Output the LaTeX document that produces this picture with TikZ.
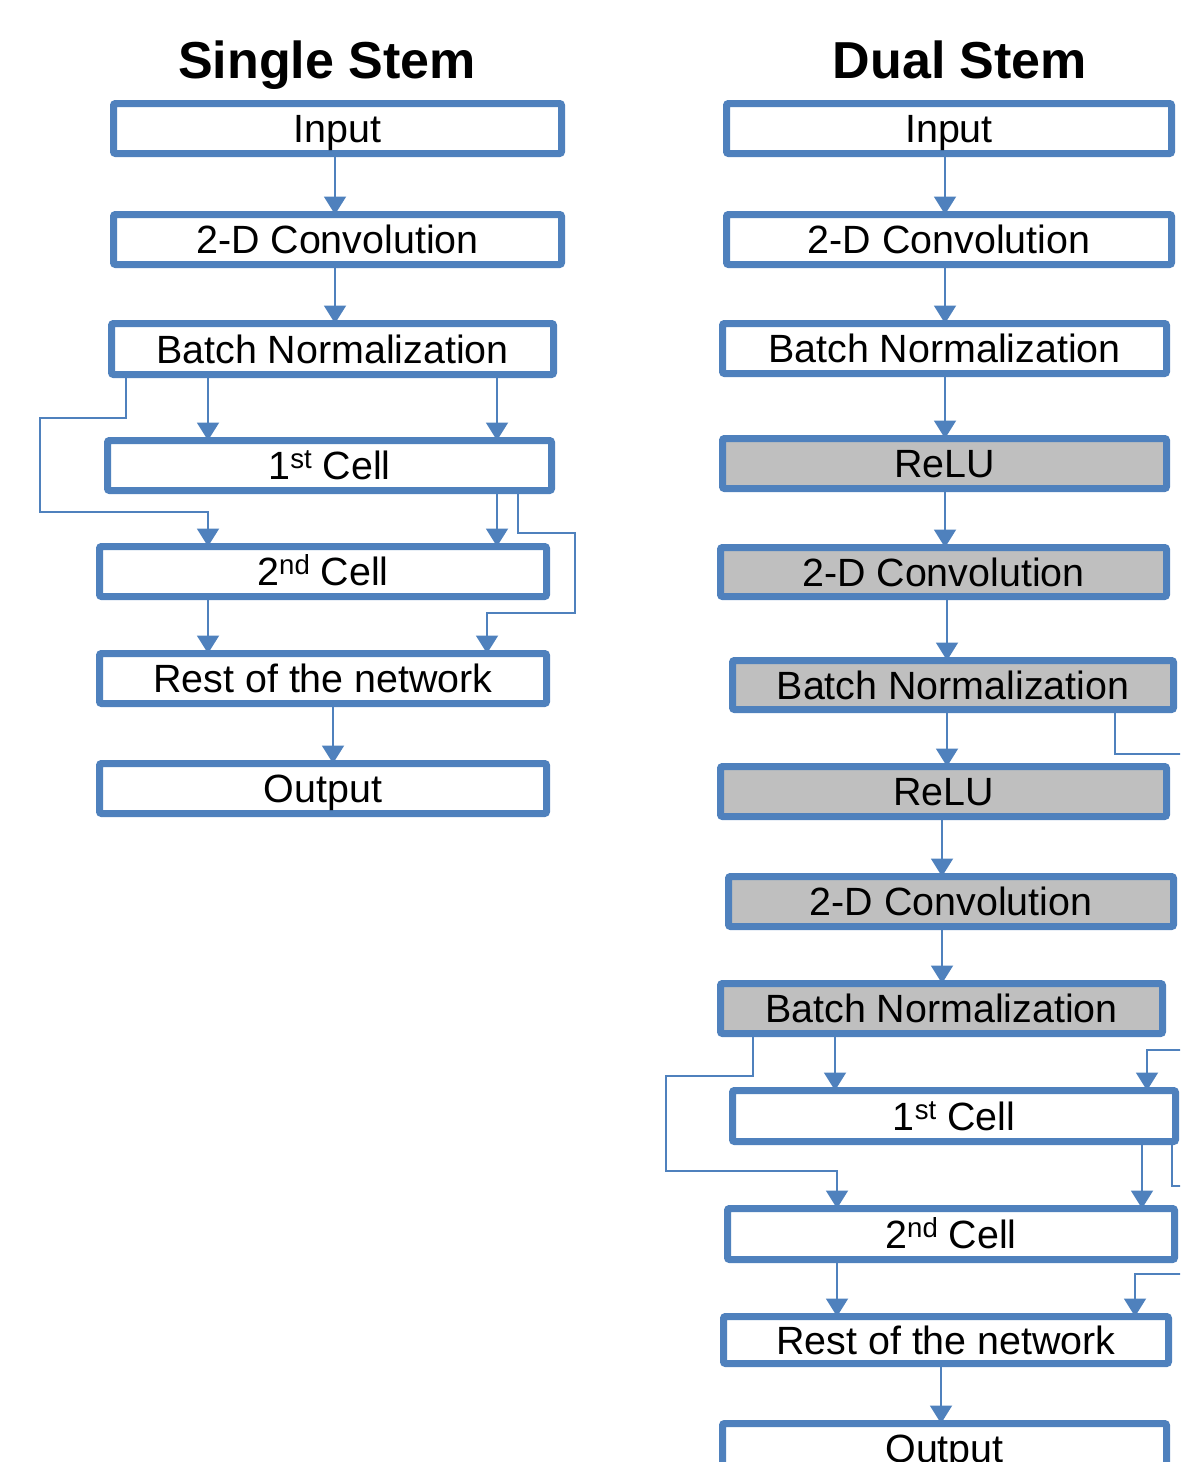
\documentclass[tikz,border=0pt]{standalone}
\usepackage{fontspec}
\setmainfont{Liberation Sans}
\usetikzlibrary{arrows.meta}
\definecolor{bblue}{HTML}{4F81BD}
\definecolor{gfill}{HTML}{BFBFBF}
\newcommand{\supx}[1]{\raisebox{5.5pt}{\fontsize{13.8}{14}\selectfont #1}}
\begin{document}
\begin{tikzpicture}[x=0.5pt,y=-0.5pt,
 box/.style={draw=bblue, line width=3.5pt, fill=white, rectangle, inner sep=0pt, outer sep=0pt,
   text height=14.1pt, text depth=0pt, font=\fontsize{19.7}{22}\selectfont, rounded corners=1pt},
 gbox/.style={box, fill=gfill},
 conn/.style={draw=bblue, line width=1pt, -{Triangle[length=9pt,width=11pt]}},
 title/.style={font=\fontsize{26}{30}\selectfont\bfseries, anchor=base, inner sep=0pt}]
\useasboundingbox (0,0) rectangle (1180,1462);
\clip (0,0) rectangle (1180,1462);
% titles
\node[title] (t1) at (327,78) {Single Stem};
\node[title] (t2) at (960,78) {Dual Stem};
% left column
\node[box, minimum width=224pt, minimum height=25pt] (inA) at (337.5,128.5) {Input};
\node[box, minimum width=224pt, minimum height=25pt] (convA) at (337.5,239.5) {2-D Convolution};
\node[box, minimum width=221pt, minimum height=25.5pt] (bnA) at (332.5,349) {Batch Normalization};
\node[box, minimum width=222pt, minimum height=25pt] (c1A) at (329.5,465.5) {1\supx{st} Cell};
\node[box, minimum width=223.5pt, minimum height=25pt] (c2A) at (323,571.5) {2\supx{nd} Cell};
\node[box, minimum width=223.5pt, minimum height=25pt] (restA) at (323,678.5) {Rest of the network};
\node[box, minimum width=223.5pt, minimum height=25pt] (outA) at (323,788.5) {Output};
% right column
\node[box, minimum width=222.5pt, minimum height=25pt] (inB) at (949,128.5) {Input};
\node[box, minimum width=222.5pt, minimum height=25pt] (convB) at (949,239.5) {2-D Convolution};
\node[box, minimum width=222pt, minimum height=25pt] (bnB) at (944.5,348.5) {Batch Normalization};
\node[gbox, minimum width=222pt, minimum height=25pt] (reluB1) at (944.5,463.5) {ReLU};
\node[gbox, minimum width=223pt, minimum height=24.5pt] (convB2) at (943.5,572) {2-D Convolution};
\node[gbox, minimum width=220.5pt, minimum height=24.5pt] (bnB2) at (953,685) {Batch Normalization};
\node[gbox, minimum width=223pt, minimum height=25pt] (reluB2) at (943.5,791.5) {ReLU};
\node[gbox, minimum width=222.5pt, minimum height=25pt] (convB3) at (951,901.5) {2-D Convolution};
\node[gbox, minimum width=221pt, minimum height=25pt] (bnB3) at (941.5,1008.5) {Batch Normalization};
\node[box, minimum width=221.5pt, minimum height=25.5pt] (c1B) at (954,1116) {1\supx{st} Cell};
\node[box, minimum width=223.5pt, minimum height=25.5pt] (c2B) at (951,1234) {2\supx{nd} Cell};
\node[box, minimum width=222.5pt, minimum height=23.5pt] (restB) at (946,1340) {Rest of the network};
\node[box, minimum width=222pt, minimum height=25pt] (outB) at (944.5,1448.5) {Output};
% off-picture ends
\coordinate (e1) at (1195,754);
\coordinate (e2) at (1195,1050);
\coordinate (e3) at (1195,1186);
\coordinate (e4) at (1195,1274);
% left connectors
\draw[conn] (335,0 |- inA.south) -- (335,0 |- convA.north);
\draw[conn] (335,0 |- convA.south) -- (335,0 |- bnA.north);
\draw[conn] (208,0 |- bnA.south) -- (208,0 |- c1A.north);
\draw[conn] (497,0 |- bnA.south) -- (497,0 |- c1A.north);
\draw[conn] (126,0 |- bnA.south) -- (126,418) -- (40,418) -- (40,512) -- (208,512) -- (208,0 |- c2A.north);
\draw[conn] (497,0 |- c1A.south) -- (497,0 |- c2A.north);
\draw[conn] (518,0 |- c1A.south) -- (518,533) -- (575,533) -- (575,613) -- (487,613) -- (487,0 |- restA.north);
\draw[conn] (208,0 |- c2A.south) -- (208,0 |- restA.north);
\draw[conn] (333,0 |- restA.south) -- (333,0 |- outA.north);
% right connectors
\draw[conn] (945,0 |- inB.south) -- (945,0 |- convB.north);
\draw[conn] (945,0 |- convB.south) -- (945,0 |- bnB.north);
\draw[conn] (945,0 |- bnB.south) -- (945,0 |- reluB1.north);
\draw[conn] (945,0 |- reluB1.south) -- (945,0 |- convB2.north);
\draw[conn] (947,0 |- convB2.south) -- (947,0 |- bnB2.north);
\draw[conn] (947,0 |- bnB2.south) -- (947,0 |- reluB2.north);
\draw[conn] (942,0 |- reluB2.south) -- (942,0 |- convB3.north);
\draw[conn] (942,0 |- convB3.south) -- (942,0 |- bnB3.north);
\draw[draw=bblue, line width=1pt] (1115,0 |- bnB2.south) -- (1115,754) -- (e1);
\draw[conn] (835,0 |- bnB3.south) -- (835,0 |- c1B.north);
\draw[conn] (753,0 |- bnB3.south) -- (753,1076) -- (666,1076) -- (666,1171) -- (837,1171) -- (837,0 |- c2B.north);
\draw[conn] (e2) -- (1147,1050) -- (1147,0 |- c1B.north);
\draw[conn] (1142,0 |- c1B.south) -- (1142,0 |- c2B.north);
\draw[draw=bblue, line width=1pt] (1172,0 |- c1B.south) -- (1172,1186) -- (e3);
\draw[conn] (837,0 |- c2B.south) -- (837,0 |- restB.north);
\draw[conn] (e4) -- (1135,1274) -- (1135,0 |- restB.north);
\draw[conn] (941,0 |- restB.south) -- (941,0 |- outB.north);
\end{tikzpicture}
\end{document}
